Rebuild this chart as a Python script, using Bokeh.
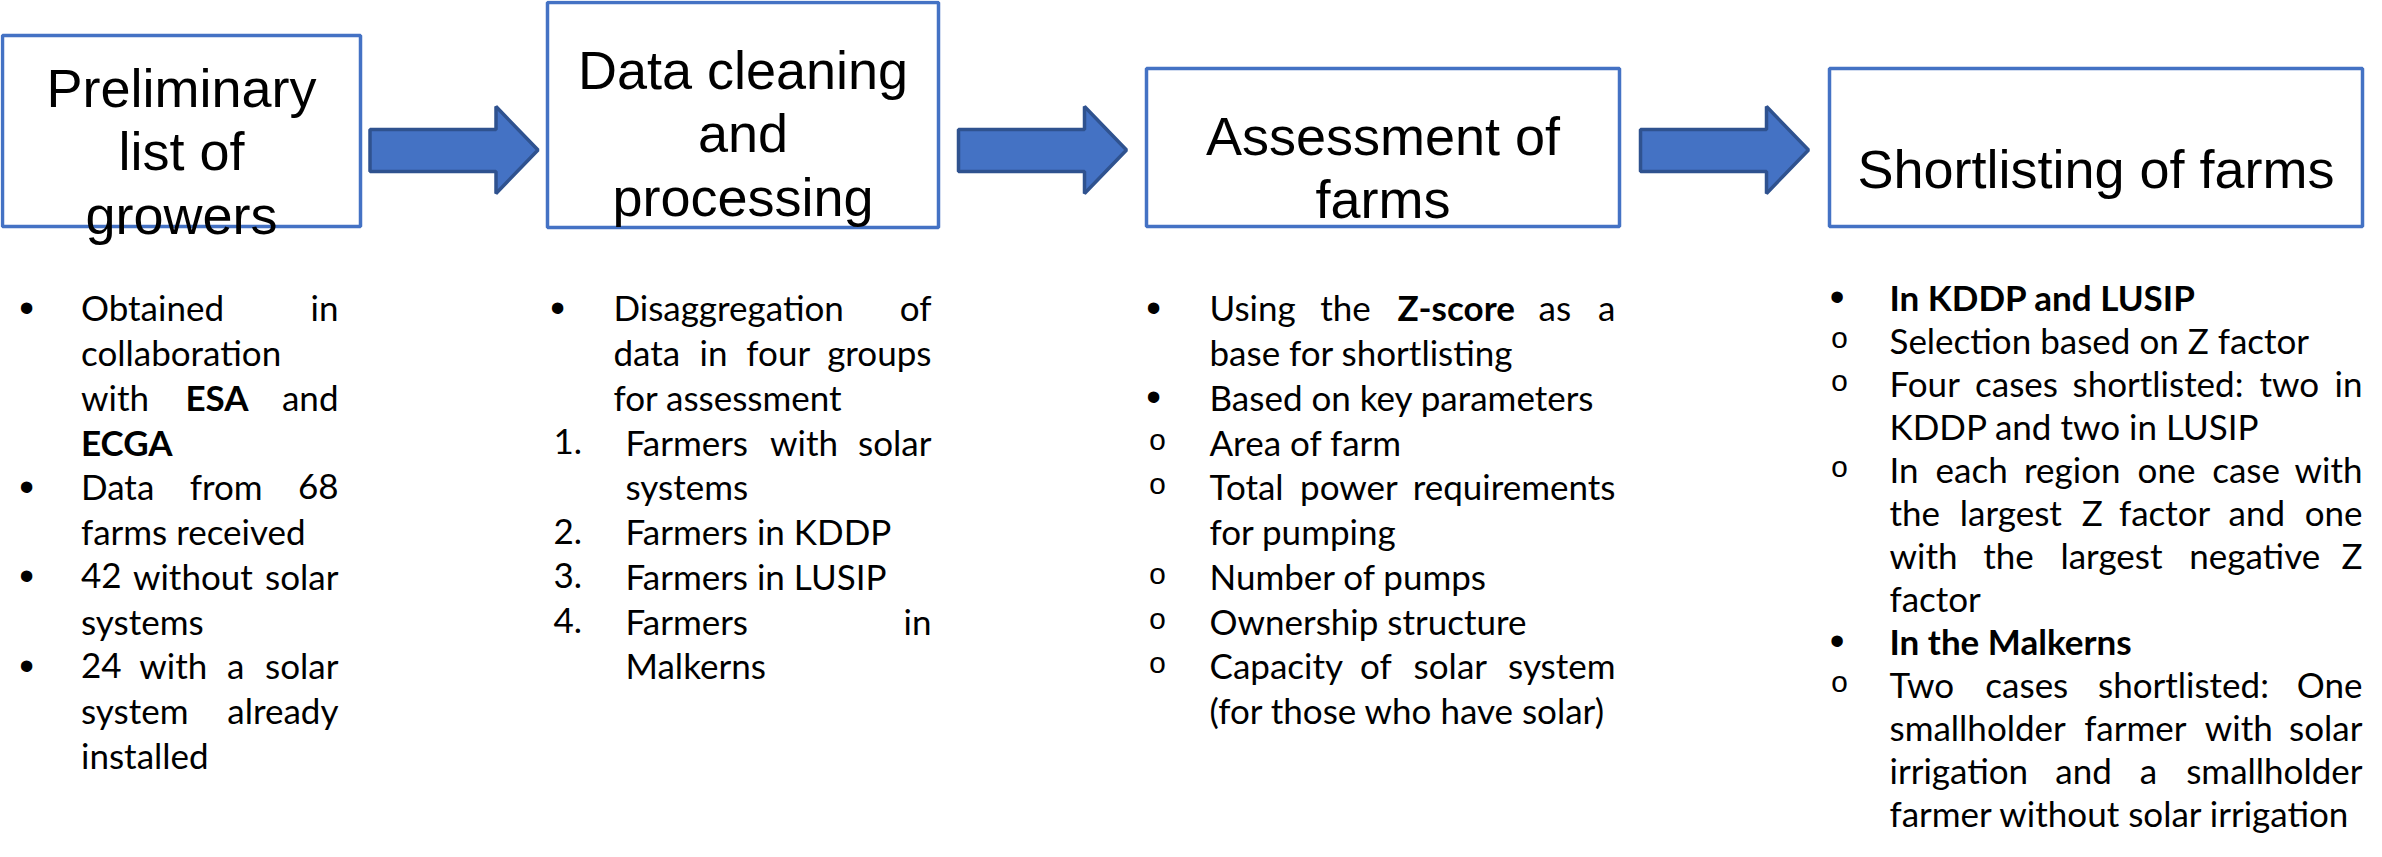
from bokeh.plotting import figure
from bokeh.models import Range1d, ColumnDataSource
from bokeh.embed import file_html
from bokeh.resources import INLINE
from bokeh.core.properties import value

# ---------------- flow steps (boxes) ----------------
step_titles = [["Preliminary", "list of", "growers"],
               ["Data cleaning", "and", "processing"],
               ["Assessment of", "farms"],
               ["Shortlisting of farms"]]
box_left = [10, 555, 1154, 1837]
box_right = [368, 946, 1627, 2370]
box_top = [43, 10, 76, 76]
box_bottom = [234, 235, 234, 234]
title_first_baseline = [95, 77, 143, 176]
TITLE_GAP = 63.5
TITLE_SIZE = "54px"

BOX_COLOR = "#4472C4"
ARROW_FILL = "#4472C4"
ARROW_LINE = "#2F528F"
ARROW_LEN = 168
ARROW_HEAD = 42
SHAFT = (137, 179)
HEAD = (114, 201)

# ---------------- bullet columns ----------------
col1_items = [
    ("•", "Obtained in", 1),
    ("", "collaboration", 0),
    ("", "with *ESA* and", 1),
    ("", "*ECGA*", 0),
    ("•", "Data from 68", 1),
    ("", "farms received", 0),
    ("•", "42 without solar", 1),
    ("", "systems", 0),
    ("•", "24 with a solar", 1),
    ("", "system already", 1),
    ("", "installed", 0),
]
col2_items = [
    ("•", "Disaggregation of", 1),
    ("", "data in four groups", 1),
    ("", "for assessment", 0),
    ("1.", "Farmers with solar", 1),
    ("", "systems", 0),
    ("2.", "Farmers in KDDP", 0),
    ("3.", "Farmers in LUSIP", 0),
    ("4.", "Farmers in", 1),
    ("", "Malkerns", 0),
]
col3_items = [
    ("•", "Using the *Z-score* as a", 1),
    ("", "base for shortlisting", 0),
    ("•", "Based on key parameters", 0),
    ("o", "Area of farm", 0),
    ("o", "Total power requirements", 1),
    ("", "for pumping", 0),
    ("o", "Number of pumps", 0),
    ("o", "Ownership structure", 0),
    ("o", "Capacity of solar system", 1),
    ("", "(for those who have solar)", 0),
]
col4_items = [
    ("•", "*In* *KDDP* *and* *LUSIP*", 0),
    ("o", "Selection based on Z factor", 0),
    ("o", "Four cases shortlisted: two in", 1),
    ("", "KDDP and two in LUSIP", 0),
    ("o", "In each region one case with", 1),
    ("", "the largest Z factor and one", 1),
    ("", "with the largest negative Z", 1),
    ("", "factor", 0),
    ("•", "*In* *the* *Malkerns*", 0),
    ("o", "Two cases shortlisted: One", 1),
    ("", "smallholder farmer with solar", 1),
    ("", "irrigation and a smallholder", 1),
    ("", "farmer without solar irrigation", 0),
]
columns = [col1_items, col2_items, col3_items, col4_items]
col_text_left = [88.5, 621, 1217, 1897]
col_num_text_left = [88.5, 633, 1217, 1897]
col_text_right = [346, 939, 1623, 2370]
col_bullet_x = [34, 565, 1161, 1844.5]
col_circle_x = [34, 565, 1165, 1847]
col_num_left = [30, 561, 1150, 1835]
col_first_baseline = [314.8, 314.8, 314.8, 304.0]
col_line_gap = [44.75, 44.75, 44.75, 43.0]
BODY_FONT = "Lato"
BODY_SIZE = "35px"

# approximate advance widths (em) of the original body face, for justification
CW = {'a': .479, 'b': .525, 'c': .423, 'd': .525, 'e': .498, 'f': .305, 'g': .471,
      'h': .525, 'i': .229, 'j': .239, 'k': .455, 'l': .229, 'm': .799, 'n': .525,
      'o': .527, 'p': .525, 'q': .525, 'r': .349, 's': .391, 't': .335, 'u': .525,
      'v': .452, 'w': .715, 'x': .433, 'y': .453, 'z': .395,
      'A': .579, 'B': .544, 'C': .533, 'D': .615, 'E': .488, 'F': .459, 'G': .631,
      'H': .623, 'I': .252, 'J': .319, 'K': .520, 'L': .420, 'M': .855, 'N': .646,
      'O': .662, 'P': .517, 'Q': .673, 'R': .543, 'S': .459, 'T': .487, 'U': .642,
      'V': .567, 'W': .890, 'X': .519, 'Y': .487, 'Z': .468,
      '.': .252, ',': .250, ':': .268, '-': .306, '(': .303, ')': .303, ' ': .226}
EM = 37.0


def est_width(word, bold):
    w = sum(CW.get(c, .507) for c in word) * EM
    return w * (1.04 if bold else 1.0)


W, H = 2366, 841
p = figure(width=W, height=H, x_range=Range1d(8, 8 + W), y_range=Range1d(8 + H, 8),
           x_axis_type=None, y_axis_type=None, output_backend="svg",
           toolbar_location=None, min_border=0)
p.grid.visible = False
p.outline_line_color = None
p.background_fill_color = "white"
p.border_fill_color = "white"

# boxes
p.quad(left=box_left, right=box_right, top=box_top, bottom=box_bottom,
       fill_color="white", line_color=BOX_COLOR, line_width=3.5)

# arrows centred in the gaps between boxes
axs, ays = [], []
ymid = (HEAD[0] + HEAD[1]) / 2
for i in range(len(box_left) - 1):
    c = (box_right[i] + box_left[i + 1]) / 2
    x0 = c - ARROW_LEN / 2
    x2 = c + ARROW_LEN / 2
    x1 = x2 - ARROW_HEAD
    axs.append([x0, x1, x1, x2, x1, x1, x0])
    ays.append([SHAFT[0], SHAFT[0], HEAD[0], ymid, HEAD[1], SHAFT[1], SHAFT[1]])
p.patches(axs, ays, fill_color=ARROW_FILL, line_color=ARROW_LINE, line_width=3.5)

# titles
tx, ty, tt = [], [], []
for i, lines in enumerate(step_titles):
    cx = (box_left[i] + box_right[i]) / 2
    for j, line in enumerate(lines):
        tx.append(cx)
        ty.append(title_first_baseline[i] + j * TITLE_GAP)
        tt.append(line)
p.text(x=tx, y=ty, text=tt, text_font=value("Liberation Sans"), text_font_size=TITLE_SIZE,
       text_align="center", text_baseline="alphabetic", text_color="black")

# body text
groups = {(b, a): dict(x=[], y=[], text=[]) for b in (False, True) for a in ("left", "right")}
bul = dict(x=[], y=[], text=[])
circ = dict(x=[], y=[], text=[])
nums = dict(x=[], y=[], text=[])

for ci, items in enumerate(columns):
    x_left = col_text_left[ci]
    x_right = col_text_right[ci]
    cur_left = x_left
    for li, (marker, text, just) in enumerate(items):
        y = col_first_baseline[ci] + li * col_line_gap[ci]
        if marker == "•":
            cur_left = x_left
            bul["x"].append(col_bullet_x[ci]); bul["y"].append(y); bul["text"].append("•")
        elif marker == "o":
            cur_left = x_left
            circ["x"].append(col_circle_x[ci]); circ["y"].append(y); circ["text"].append("o")
        elif marker:
            cur_left = col_num_text_left[ci]
            nums["x"].append(col_num_left[ci]); nums["y"].append(y); nums["text"].append(marker)
        words = []
        for w in text.split(" "):
            b = w.startswith("*") and w.endswith("*") and len(w) > 1
            words.append((w.strip("*"), b))
        styles = set(b for _, b in words)
        if just and len(words) > 1:
            widths = [est_width(w, b) for w, b in words]
            gap = (x_right - cur_left - sum(widths)) / (len(words) - 1)
            pos = cur_left
            for k, (w, b) in enumerate(words):
                if k == len(words) - 1:
                    g = groups[(b, "right")]; g["x"].append(x_right)
                else:
                    g = groups[(b, "left")]; g["x"].append(pos)
                g["y"].append(y); g["text"].append(w)
                pos += widths[k] + gap
        elif len(styles) == 1:
            b = words[0][1]
            g = groups[(b, "left")]
            g["x"].append(cur_left); g["y"].append(y)
            g["text"].append(" ".join(w for w, _ in words))
        else:
            pos = cur_left
            for w, b in words:
                g = groups[(b, "left")]
                g["x"].append(pos); g["y"].append(y); g["text"].append(w)
                pos += est_width(w + " ", b)

for (b, a), d in groups.items():
    if d["x"]:
        p.text(x="x", y="y", text="text", source=ColumnDataSource(d),
               text_font=value(BODY_FONT), text_font_size=BODY_SIZE,
               text_font_style="bold" if b else "normal",
               text_align=a, text_baseline="alphabetic", text_color="black")

p.text(x="x", y="y", text="text", source=ColumnDataSource(bul),
       text_font=value("Liberation Sans"), text_font_size="42px",
       text_align="center", text_baseline="alphabetic", text_color="black")
p.text(x="x", y="y", text="text", source=ColumnDataSource(circ),
       text_font=value("Liberation Mono"), text_font_size="30px",
       text_align="center", text_baseline="alphabetic", text_color="black")
p.text(x="x", y="y", text="text", source=ColumnDataSource(nums),
       text_font=value(BODY_FONT), text_font_size=BODY_SIZE,
       text_align="left", text_baseline="alphabetic", text_color="black")

open("out.html", "w").write(file_html(p, INLINE))
